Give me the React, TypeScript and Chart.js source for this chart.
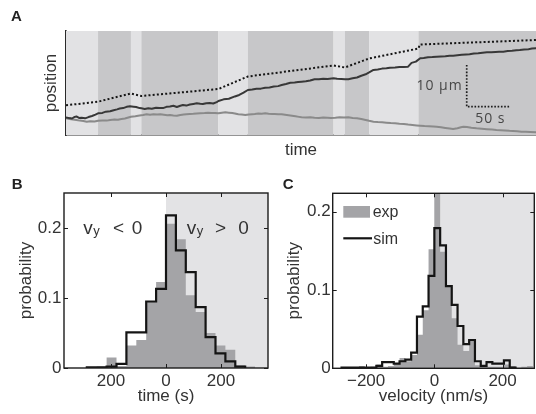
import React, { useEffect, useRef } from 'react';
import { Chart, registerables } from 'chart.js';

Chart.register(...registerables);

const FONT = "'Liberation Sans', Arial, Helvetica, sans-serif";
const TEXT = '#333333';
const INK = '#1c1c1c';
const EXP_GRAY = '#a4a4a7';
const SHADE = '#e3e3e5';

// ---------------- Panel A: trajectories ----------------
const timeRangeS = [0, 542.7];
const posRangeUm = [0, 24.94];
const bandEdgesS = [0, 37, 75, 87, 176, 210, 309, 322, 350, 407, 543];
const bandKinds = ['light', 'dark', 'light', 'dark', 'light', 'dark', 'light', 'dark', 'light', 'dark'];

const dottedTimeS = [0, 37, 75, 87, 176, 210, 309, 322, 350, 407, 408.5, 543];
const dottedPosUm = [7.12, 7.99, 9.95, 9.35, 11.03, 14.03, 16.67, 16.19, 18.35, 20.74, 21.7, 22.78];

const darkTimeS = [0, 4, 7, 10, 12, 15, 18, 22, 26, 30, 34, 37, 42, 46, 51, 55, 59, 62, 66, 70, 74, 78, 81, 85, 87, 91, 95, 99, 104, 108, 112, 116, 120, 124, 128, 132, 135, 139, 143, 147, 151, 155, 158, 162, 166, 170, 174, 176, 182, 188, 195, 200, 205, 210, 215, 220, 225, 230, 235, 240, 245, 249, 254, 259, 264, 268, 272, 277, 282, 287, 292, 297, 302, 309, 313, 318, 322, 326, 331, 336, 341, 346, 350, 355, 360, 365, 370, 374, 380, 385, 390, 395, 399, 404, 409, 413, 418, 423, 428, 433, 438, 443, 447, 452, 457, 462, 466, 471, 476, 481, 486, 491, 496, 500, 505, 510, 515, 520, 524, 529, 534, 538, 543];
const darkPosUm = [4.2, 4.05, 3.96, 4.35, 4.44, 4.1, 4.15, 4.0, 4.3, 4.56, 4.9, 5.2, 5.3, 5.6, 5.7, 5.95, 6.15, 6.35, 6.45, 6.75, 6.88, 6.8, 6.71, 6.45, 6.4, 6.25, 6.4, 6.3, 6.55, 6.5, 6.45, 6.75, 6.83, 7.0, 6.71, 7.0, 7.19, 7.05, 7.31, 7.45, 7.6, 7.48, 7.43, 7.62, 7.67, 7.55, 7.9, 8.15, 8.55, 8.7, 9.25, 9.6, 10.15, 10.79, 10.9, 11.1, 11.12, 11.34, 11.38, 11.62, 11.72, 11.99, 12.25, 12.54, 12.58, 12.7, 12.78, 12.88, 13.05, 13.36, 13.38, 13.5, 13.45, 13.6, 13.48, 13.45, 13.38, 13.36, 13.62, 13.8, 14.22, 14.55, 15.0, 15.6, 15.72, 15.92, 16.0, 16.14, 16.18, 16.28, 16.28, 16.38, 17.3, 17.6, 18.39, 18.48, 18.62, 18.68, 18.78, 18.85, 18.88, 19.0, 19.02, 19.12, 19.22, 19.3, 19.35, 19.52, 19.58, 19.72, 19.83, 19.84, 19.92, 19.95, 19.98, 20.12, 20.18, 20.32, 20.38, 20.52, 20.58, 20.72, 20.79];

const grayTimeS = [0, 4, 8, 12, 16, 20, 24, 28, 33, 37, 42, 47, 51, 56, 60, 64, 68, 72, 75, 80, 85, 89, 93, 97, 101, 105, 109, 113, 117, 120, 124, 128, 132, 136, 139, 143, 147, 151, 155, 160, 164, 168, 172, 176, 180, 184, 188, 192, 195, 199, 203, 207, 211, 215, 218, 222, 226, 230, 234, 238, 241, 245, 249, 253, 257, 261, 265, 269, 272, 277, 282, 287, 292, 297, 302, 306, 311, 316, 321, 326, 331, 336, 341, 346, 350, 355, 360, 365, 370, 375, 380, 385, 390, 395, 400, 405, 409, 414, 419, 424, 428, 433, 438, 443, 447, 452, 456, 459, 463, 468, 474, 480, 486, 492, 497, 502, 507, 512, 516, 521, 526, 531, 536, 543];
const grayPosUm = [4.0, 3.85, 3.7, 3.6, 3.45, 3.35, 3.19, 3.3, 3.25, 3.43, 3.5, 3.45, 3.6, 3.7, 3.65, 3.84, 3.95, 4.2, 4.39, 4.5, 4.68, 4.8, 4.96, 4.85, 5.0, 4.9, 4.96, 4.85, 4.75, 4.8, 4.7, 4.63, 4.8, 4.9, 4.96, 5.05, 5.08, 5.15, 5.2, 5.25, 5.32, 5.25, 5.3, 5.2, 5.35, 5.44, 5.35, 5.25, 5.16, 5.0, 4.9, 4.8, 4.9, 5.0, 5.04, 5.15, 5.1, 5.2, 5.1, 5.05, 5.04, 5.0, 4.96, 4.85, 4.75, 4.63, 4.5, 4.35, 4.24, 4.2, 4.25, 4.15, 4.1, 4.2, 4.15, 4.1, 4.15, 4.25, 4.2, 4.24, 4.1, 4.0, 3.84, 3.6, 3.4, 3.19, 3.1, 3.05, 2.95, 2.85, 2.8, 2.7, 2.64, 2.5, 2.4, 2.3, 2.23, 2.15, 2.1, 2.05, 1.99, 1.85, 1.7, 1.55, 1.44, 1.6, 1.85, 1.99, 1.9, 1.75, 1.61, 1.5, 1.4, 1.3, 1.2, 1.15, 1.1, 1.0, 0.96, 0.9, 0.8, 0.75, 0.7, 0.65];

const scaleBarTimeS = [462.7, 462.7, 512.7];
const scaleBarPosUm = [16.8, 6.8, 6.8];
const scaleBarLabels = ['10 µm', '50 s'];

// ---------------- Panel B: dwell-time histogram ----------------
const dwellBinStartS = -288;
const dwellBinWidthS = 36;
const dwellExp = [0.001, 0.002, 0.015, 0.003, 0.032, 0.04, 0.095, 0.123, 0.206, 0.184, 0.104, 0.08, 0.05, 0.032, 0.026, 0.004, 0.002];
const dwellSim = [0.001, 0.001, 0.002, 0.006, 0.051, 0.051, 0.095, 0.113, 0.218, 0.168, 0.137, 0.087, 0.044, 0.021, 0.0095, 0.002];
const dwellRange = [-371, 371];
const dwellTicks = [-200, 0, 200];
const dwellTickLabels = ['200', '0', '200'];
const probRangeB = [0, 0.25];

// ---------------- Panel C: velocity histogram ----------------
const velBinStart = -272;
const velBinWidth = 17;
const velExp = [0.001, 0.001, 0.001, 0.003, 0.001, 0.002, 0.005, 0.002, 0.003, 0.006, 0.013, 0.009, 0.017, 0.043, 0.074, 0.152, 0.235, 0.149, 0.106, 0.064, 0.03, 0.022, 0.034, 0.004, 0.002, 0.002, 0.002, 0.002, 0.005, 0.003, 0.001, 0.002, 0.003];
const velSim = [0.001, 0.001, 0.001, 0.001, 0.001, 0.001, 0.003, 0.008, 0.008, 0.006, 0.009, 0.011, 0.02, 0.066, 0.079, 0.118, 0.179, 0.157, 0.105, 0.081, 0.054, 0.031, 0.036, 0.009, 0.003, 0.008, 0.006, 0.006, 0.01, 0.001];
const velRange = [-298, 293];
const velTicks = [-200, 0, 200];
const velTickLabels = ['\u2212200', '0', '200'];
const probRangeC = [0, 0.2235];

const probTicks = [0, 0.1, 0.2];
const probTickLabels = ['0', '0.1', '0.2'];
const seriesNames = ['exp', 'sim'];

function stepPoints(start: number, width: number, values: number[]) {
  const pts: { x: number; y: number }[] = [{ x: start, y: 0 }];
  values.forEach((v, i) => pts.push({ x: start + i * width, y: v }));
  const end = start + values.length * width;
  pts.push({ x: end, y: values[values.length - 1] });
  pts.push({ x: end, y: 0 });
  return pts;
}

function zip(xs: number[], ys: number[]) {
  return xs.map((x, i) => ({ x, y: ys[i] }));
}

function drawLetter(ctx: CanvasRenderingContext2D, letter: string, x: number, y: number) {
  ctx.save();
  ctx.font = `bold 15px ${FONT}`;
  ctx.fillStyle = '#222';
  ctx.textAlign = 'left';
  ctx.textBaseline = 'alphabetic';
  ctx.fillText(letter, x, y);
  ctx.restore();
}

function makeA(canvas: HTMLCanvasElement) {
  const plugin = {
    id: 'panelA',
    beforeDatasetsDraw(chart: any) {
      const { ctx, chartArea: ca, scales } = chart;
      const x = scales.x;
      ctx.save();
      for (let i = 0; i < bandKinds.length; i++) {
        const x0 = x.getPixelForValue(bandEdgesS[i]);
        const x1 = Math.min(x.getPixelForValue(bandEdgesS[i + 1]), ca.right);
        ctx.fillStyle = bandKinds[i] === 'dark' ? '#c7c7c9' : '#e2e2e4';
        ctx.fillRect(x0, ca.top, x1 - x0, ca.bottom - ca.top);
      }
      ctx.restore();
    },
    afterDatasetsDraw(chart: any) {
      const { ctx, scales } = chart;
      const x = scales.x, y = scales.y;
      const bx = x.getPixelForValue(scaleBarTimeS[0]);
      const bx2 = x.getPixelForValue(scaleBarTimeS[2]);
      const byTop = y.getPixelForValue(scaleBarPosUm[0]);
      const byBot = y.getPixelForValue(scaleBarPosUm[1]);
      ctx.save();
      ctx.font = "14px 'Open Sans', 'DejaVu Sans', sans-serif";
      ctx.fillStyle = '#474747';
      try { (ctx as any).letterSpacing = '1px'; } catch (e) { /* ignore */ }
      ctx.textAlign = 'right';
      ctx.textBaseline = 'middle';
      ctx.fillText(scaleBarLabels[0], bx - 4, (byTop + byBot) / 2);
      ctx.textAlign = 'center';
      ctx.fillText(scaleBarLabels[1], (bx + bx2) / 2 + 2, byBot + 12.6);
      ctx.restore();
    },
    afterDraw(chart: any) {
      drawLetter(chart.ctx, 'A', 11, 20.7);
    },
  };

  return new Chart(canvas, {
    type: 'line',
    data: {
      datasets: [
        { data: zip(scaleBarTimeS, scaleBarPosUm), borderColor: INK, borderWidth: 1.7, borderDash: [1.6, 1.7], pointRadius: 0, fill: false, borderJoinStyle: 'miter' },
        { data: zip(dottedTimeS, dottedPosUm), borderColor: '#151515', borderWidth: 2, borderDash: [2, 2.2], pointRadius: 0, fill: false },
        { data: zip(darkTimeS, darkPosUm), borderColor: '#383838', borderWidth: 2, pointRadius: 0, fill: false, borderJoinStyle: 'round' },
        { data: zip(grayTimeS, grayPosUm), borderColor: '#8a8a8a', borderWidth: 2, pointRadius: 0, fill: false, borderJoinStyle: 'round' },
      ] as any,
    },
    options: {
      responsive: false,
      animation: false,
      devicePixelRatio: 1,
      events: [],
      layout: { padding: { top: 31, left: 0, right: 0, bottom: 0 }, autoPadding: false } as any,
      plugins: { legend: { display: false }, tooltip: { enabled: false } },
      scales: {
        x: {
          type: 'linear', min: timeRangeS[0], max: timeRangeS[1],
          afterFit: (s: any) => { s.height = 35; },
          ticks: { display: false },
          grid: { display: false, drawTicks: false },
          border: { display: true, color: '#2a2a2a', width: 1.6 },
          title: { display: true, text: 'time', color: TEXT, font: { family: FONT, size: 17 }, padding: { top: 0, bottom: 9.1 } },
        },
        y: {
          type: 'linear', min: posRangeUm[0], max: posRangeUm[1],
          afterFit: (s: any) => { s.width = 66; },
          ticks: { display: false },
          grid: { display: false, drawTicks: false },
          border: { display: true, color: '#2a2a2a', width: 1.6 },
          title: { display: true, text: 'position', color: TEXT, font: { family: FONT, size: 17 }, padding: { top: 41.1, bottom: 0 } },
        },
      },
    } as any,
    plugins: [plugin],
  });
}

interface HistCfg {
  binStart: number; binWidth: number; exp: number[]; sim: number[];
  xRange: number[]; xTicks: number[]; xTickLabels: string[]; xTitle: string;
  yRange: number[]; shadeFrom: number;
  yAxisWidth: number; xAxisHeight: number; padTop: number; padRight: number;
  yTitlePad: number; yTickPad: number; xTickPad: number; xTitlePad: number;
  letter: string; letterX: number; letterY: number;
  annotate: (ctx: CanvasRenderingContext2D, chart: any) => void;
}

function makeHist(canvas: HTMLCanvasElement, c: HistCfg) {
  const plugin = {
    id: 'histDecor',
    beforeDatasetsDraw(chart: any) {
      const { ctx, chartArea: ca, scales } = chart;
      const x0 = scales.x.getPixelForValue(c.shadeFrom);
      ctx.save();
      ctx.fillStyle = SHADE;
      ctx.fillRect(x0, ca.top, ca.right - x0, ca.bottom - ca.top);
      ctx.restore();
    },
    afterDatasetsDraw(chart: any) {
      const { ctx, chartArea: ca, scales } = chart;
      ctx.save();
      ctx.strokeStyle = INK;
      ctx.lineWidth = 1;
      const tl = 4;
      ctx.beginPath();
      c.xTicks.forEach((v) => {
        const px = Math.round(scales.x.getPixelForValue(v)) + 0.5;
        ctx.moveTo(px, ca.bottom); ctx.lineTo(px, ca.bottom - tl);
        ctx.moveTo(px, ca.top); ctx.lineTo(px, ca.top + tl);
      });
      probTicks.forEach((v) => {
        const py = Math.round(scales.y.getPixelForValue(v)) + 0.5;
        ctx.moveTo(ca.left, py); ctx.lineTo(ca.left + tl, py);
        ctx.moveTo(ca.right, py); ctx.lineTo(ca.right - tl, py);
      });
      ctx.stroke();
      ctx.lineWidth = 1.4;
      ctx.strokeStyle = INK;
      ctx.strokeRect(ca.left, ca.top, ca.right - ca.left, ca.bottom - ca.top);
      ctx.restore();
      c.annotate(ctx, chart);
    },
    afterDraw(chart: any) {
      drawLetter(chart.ctx, c.letter, c.letterX, c.letterY);
    },
  };

  return new Chart(canvas, {
    type: 'line',
    data: {
      datasets: [
        { label: seriesNames[1], data: stepPoints(c.binStart, c.binWidth, c.sim), stepped: 'before', borderColor: '#141414', borderWidth: 2.2, pointRadius: 0, fill: false, borderJoinStyle: 'miter', borderCapStyle: 'butt' },
        { label: seriesNames[0], data: stepPoints(c.binStart, c.binWidth, c.exp), stepped: 'before', borderColor: 'rgba(0,0,0,0)', borderWidth: 0, backgroundColor: EXP_GRAY, pointRadius: 0, fill: 'origin' },
      ] as any,
    },
    options: {
      responsive: false,
      animation: false,
      devicePixelRatio: 1,
      events: [],
      layout: { padding: { top: c.padTop, left: 0, right: c.padRight, bottom: 0 }, autoPadding: false } as any,
      plugins: { legend: { display: false }, tooltip: { enabled: false } },
      scales: {
        x: {
          type: 'linear', min: c.xRange[0], max: c.xRange[1],
          afterFit: (s: any) => { s.height = c.xAxisHeight; },
          afterBuildTicks: (s: any) => { s.ticks = c.xTicks.map((v) => ({ value: v })); },
          ticks: { color: TEXT, font: { family: FONT, size: 17 }, padding: c.xTickPad, maxRotation: 0, autoSkip: false, callback: (_v: any, i: number) => c.xTickLabels[i] },
          grid: { display: false, drawTicks: false },
          border: { display: false },
          title: { display: true, text: c.xTitle, color: TEXT, font: { family: FONT, size: 17 }, padding: { top: 0, bottom: c.xTitlePad } },
        },
        y: {
          type: 'linear', min: c.yRange[0], max: c.yRange[1],
          afterFit: (s: any) => { s.width = c.yAxisWidth; },
          afterBuildTicks: (s: any) => { s.ticks = probTicks.map((v) => ({ value: v })); },
          ticks: { color: TEXT, font: { family: FONT, size: 17 }, padding: c.yTickPad, autoSkip: false, callback: (_v: any, i: number) => probTickLabels[i] },
          grid: { display: false, drawTicks: false },
          border: { display: false },
          title: { display: true, text: 'probability', color: TEXT, font: { family: FONT, size: 17 }, padding: { top: c.yTitlePad, bottom: 0 } },
        },
      },
    } as any,
    plugins: [plugin],
  });
}

function drawVy(ctx: CanvasRenderingContext2D, x: number, base: number, rel: string, relX: number, zeroX: number) {
  ctx.save();
  ctx.fillStyle = TEXT;
  ctx.textAlign = 'left';
  ctx.textBaseline = 'alphabetic';
  ctx.font = `19px ${FONT}`;
  ctx.fillText('v', x, base);
  ctx.fillText(rel, relX, base);
  ctx.fillText('0', zeroX, base);
  ctx.font = `13px ${FONT}`;
  ctx.fillText('y', x + 10, base + 1.5);
  ctx.restore();
}

function makeB(canvas: HTMLCanvasElement) {
  return makeHist(canvas, {
    binStart: dwellBinStartS, binWidth: dwellBinWidthS, exp: dwellExp, sim: dwellSim,
    xRange: dwellRange, xTicks: dwellTicks, xTickLabels: dwellTickLabels, xTitle: 'time (s)',
    yRange: probRangeB, shadeFrom: 0,
    yAxisWidth: 64, xAxisHeight: 46, padTop: 23, padRight: 2,
    yTitlePad: 16.5, yTickPad: 2.5, xTickPad: 3, xTitlePad: 7.5,
    letter: 'B', letterX: 11.7, letterY: 19,
    annotate: (ctx) => {
      drawVy(ctx, 83.3, 63.8, '<', 113, 131.7);
      drawVy(ctx, 186.7, 63.8, '>', 215, 238.3);
    },
  });
}

function makeC(canvas: HTMLCanvasElement) {
  return makeHist(canvas, {
    binStart: velBinStart, binWidth: velBinWidth, exp: velExp, sim: velSim,
    xRange: velRange, xTicks: velTicks, xTickLabels: velTickLabels, xTitle: 'velocity (nm/s)',
    yRange: probRangeC, shadeFrom: 0,
    yAxisWidth: 66.7, xAxisHeight: 45.7, padTop: 23.3, padRight: 1.7,
    yTitlePad: 18, yTickPad: 2, xTickPad: 3, xTitlePad: 7.5,
    letter: 'C', letterX: 16.7, letterY: 19,
    annotate: (ctx) => {
      ctx.save();
      ctx.fillStyle = EXP_GRAY;
      ctx.fillRect(77.3, 36, 26.7, 11.7);
      ctx.strokeStyle = '#141414';
      ctx.lineWidth = 2.2;
      ctx.beginPath();
      ctx.moveTo(77.3, 68.3);
      ctx.lineTo(106, 68.3);
      ctx.stroke();
      ctx.fillStyle = TEXT;
      ctx.font = `16px ${FONT}`;
      ctx.textAlign = 'left';
      ctx.textBaseline = 'alphabetic';
      ctx.fillText(seriesNames[0], 106.7, 46.5);
      ctx.fillText(seriesNames[1], 107.3, 73.5);
      ctx.restore();
    },
  });
}

export default function App() {
  const refA = useRef<HTMLCanvasElement>(null);
  const refB = useRef<HTMLCanvasElement>(null);
  const refC = useRef<HTMLCanvasElement>(null);

  useEffect(() => {
    const charts = [makeA(refA.current!), makeB(refB.current!), makeC(refC.current!)];
    return () => charts.forEach((ch) => ch.destroy());
  }, []);

  return (
    <div style={{ position: 'fixed', left: 0, top: 0, width: 536, height: 414, background: '#ffffff', overflow: 'hidden' }}>
      <canvas ref={refA} width={536} height={170} style={{ position: 'absolute', left: 0, top: 0 }} />
      <canvas ref={refB} width={270} height={244} style={{ position: 'absolute', left: 0, top: 170 }} />
      <canvas ref={refC} width={270} height={244} style={{ position: 'absolute', left: 266, top: 170 }} />
    </div>
  );
}
